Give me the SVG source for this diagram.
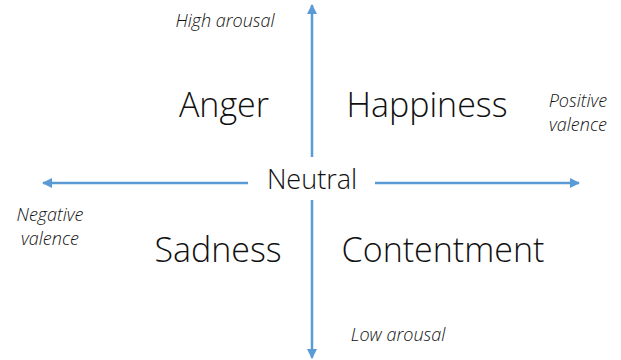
<svg xmlns="http://www.w3.org/2000/svg" width="621" height="360" viewBox="0 0 621 360">
<style>
.big{font-family:"Open Sans","Noto Sans",sans-serif;font-weight:300;font-size:34px;fill:#111}
.mid{font-family:"Open Sans","Noto Sans",sans-serif;font-weight:300;font-size:27px;fill:#111}
.lab{font-family:"Open Sans","Noto Sans",sans-serif;font-style:italic;font-weight:300;font-size:18px;fill:#111}
.ax{stroke:#5B9BD5;stroke-width:2.5;fill:none}
</style>
<defs>
<marker id="ah" viewBox="0 0 10 10" refX="9" refY="5" markerWidth="4" markerHeight="4" orient="auto" markerUnits="strokeWidth">
<path d="M0,0 L10,5 L0,10 Z" fill="#5B9BD5"/>
</marker>
</defs>
<g id="connectors">
<line class="ax" x1="312" y1="157" x2="312" y2="5" marker-end="url(#ah)"/>
<line class="ax" x1="312" y1="200" x2="312" y2="358" marker-end="url(#ah)"/>
<line class="ax" x1="248" y1="183" x2="43" y2="183" marker-end="url(#ah)"/>
<line class="ax" x1="375" y1="183" x2="579" y2="183" marker-end="url(#ah)"/>
</g>
<g id="anger"><text class="big" x="224" y="117" text-anchor="middle">Anger</text></g>
<g id="happiness"><text class="big" x="427" y="117" text-anchor="middle">Happiness</text></g>
<g id="neutral"><text class="mid" x="312" y="189" text-anchor="middle">Neutral</text></g>
<g id="sadness"><text class="big" x="218" y="262" text-anchor="middle">Sadness</text></g>
<g id="contentment"><text class="big" x="443" y="262" text-anchor="middle">Contentment</text></g>
<g id="high-arousal"><text class="lab" x="225" y="27" text-anchor="middle">High arousal</text></g>
<g id="low-arousal"><text class="lab" x="398" y="341" text-anchor="middle">Low arousal</text></g>
<g id="positive-valence"><text class="lab" text-anchor="middle"><tspan x="578" y="107">Positive</tspan><tspan x="578" y="131">valence</tspan></text></g>
<g id="negative-valence"><text class="lab" text-anchor="middle"><tspan x="50" y="221">Negative</tspan><tspan x="50" y="245">valence</tspan></text></g>
</svg>
